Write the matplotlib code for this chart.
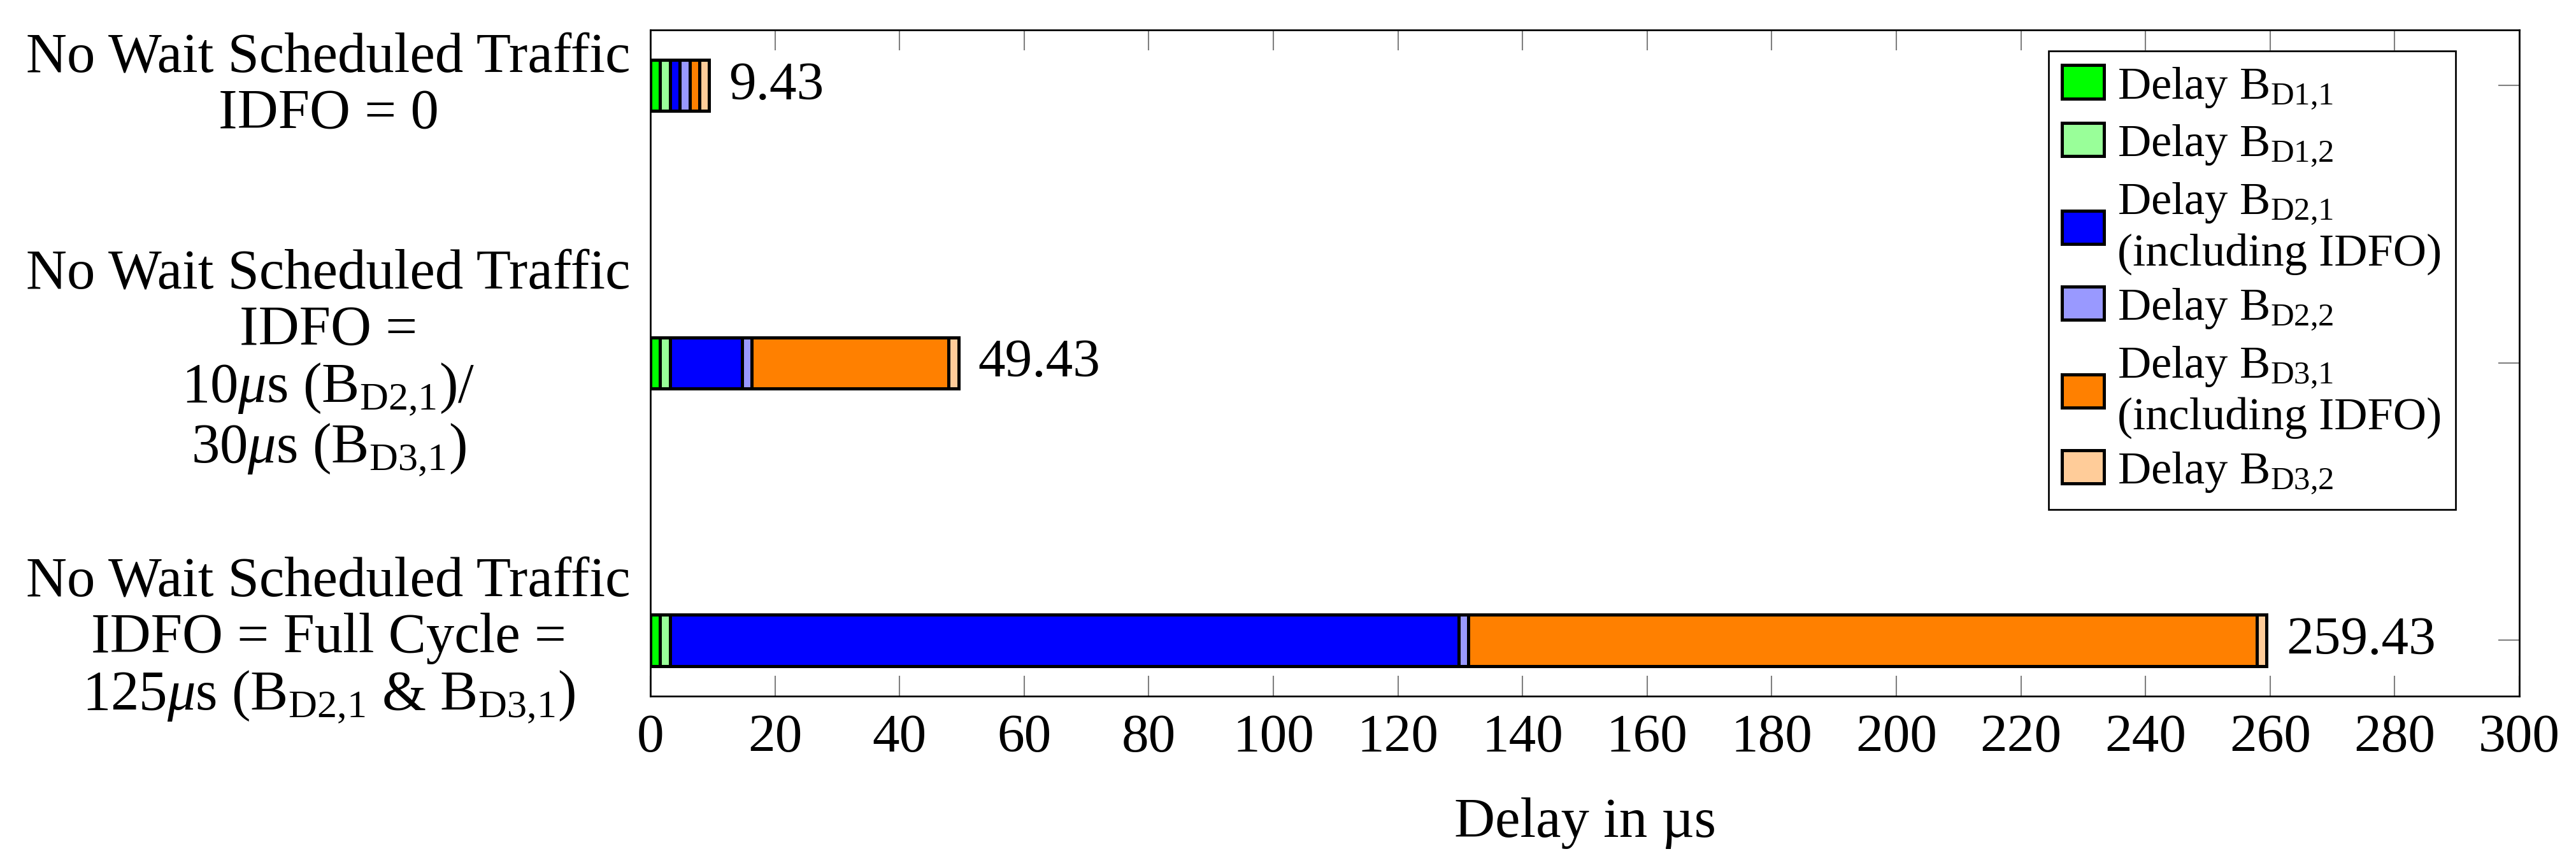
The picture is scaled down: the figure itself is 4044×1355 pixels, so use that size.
import numpy as np
import matplotlib
matplotlib.use("Agg")
import matplotlib.pyplot as plt

# ── fonts ────────────────────────────────────────────────────────────────────
plt.rcParams["font.family"] = ["Liberation Serif", "DejaVu Serif"]
plt.rcParams["mathtext.fontset"] = "custom"
plt.rcParams["mathtext.rm"] = "Liberation Serif"
plt.rcParams["mathtext.it"] = "Liberation Serif:italic"
plt.rcParams["mathtext.bf"] = "Liberation Serif:bold"
FS_NUM = 20.5    # tick labels, bar totals
FS_TXT = 21.3    # category labels, axis label
FS_LEG = 17.4

# ── data (µs) ────────────────────────────────────────────────────────────────
SCENARIOS = [
    "No Wait Scheduled Traffic\nIDFO = 0",
    "No Wait Scheduled Traffic\nIDFO =\n10$\\mu$s (B$_{\\mathrm{D2{,}1}}$)/\n30$\\mu$s (B$_{\\mathrm{D3{,}1}}$)",
    "No Wait Scheduled Traffic\nIDFO = Full Cycle =\n125$\\mu$s (B$_{\\mathrm{D2{,}1}}$ & B$_{\\mathrm{D3{,}1}}$)",
]
delay_d11 = [1.57, 1.57, 1.57]
delay_d12 = [1.57, 1.57, 1.57]
delay_d21 = [1.57, 11.57, 126.57]
delay_d22 = [1.57, 1.57, 1.57]
delay_d31 = [1.57, 31.57, 126.57]
delay_d32 = [1.58, 1.58, 1.58]

SERIES = [
    (delay_d11, "Delay B$_{\\mathrm{D1{,}1}}$", "#00ff00"),
    (delay_d12, "Delay B$_{\\mathrm{D1{,}2}}$", "#99ff99"),
    (delay_d21, "Delay B$_{\\mathrm{D2{,}1}}$\n(including IDFO)", "#0000ff"),
    (delay_d22, "Delay B$_{\\mathrm{D2{,}2}}$", "#9999ff"),
    (delay_d31, "Delay B$_{\\mathrm{D3{,}1}}$\n(including IDFO)", "#ff8000"),
    (delay_d32, "Delay B$_{\\mathrm{D3{,}2}}$", "#ffcc99"),
]

# top scenario drawn at the top
ypos = np.arange(len(SCENARIOS))[::-1]

fig = plt.figure(figsize=(13.48, 4.52), dpi=300)
ax = fig.add_axes([0.2525, 0.1935, 0.7255, 0.7711])

left = np.zeros(len(SCENARIOS))
for vals, label, col in SERIES:
    vals = np.array(vals)
    ax.barh(ypos, vals, left=left, height=0.185, color=col,
            edgecolor="black", linewidth=1.2, label=label, zorder=3)
    left += vals

for y, tot in zip(ypos, left):
    ax.annotate(f"{tot:.2f}", xy=(tot, y), xytext=(7.5, 0),
                textcoords="offset points", va="center", ha="left",
                fontsize=FS_NUM)

ax.set_xlim(0, 300)
ax.set_ylim(-0.2, 2.2)
ax.set_xticks(np.arange(0, 301, 20))
ax.set_yticks(ypos)
ax.set_yticklabels(SCENARIOS, fontsize=FS_TXT, linespacing=1.12)
for t in ax.get_yticklabels():
    t.set_multialignment("center")
    t.set_verticalalignment("center")

ax.tick_params(axis="x", direction="in", top=True, bottom=True,
               length=7.7, width=0.5, color="0.5", pad=6.5, labelsize=FS_NUM)
ax.tick_params(axis="y", direction="in", left=False, right=True,
               length=8, width=0.5, color="0.5", pad=7.5)
for s in ax.spines.values():
    s.set_linewidth(0.65)
    s.set_color("black")

ax.set_xlabel("Delay in µs", fontsize=FS_TXT, labelpad=13)

leg = ax.legend(loc="upper right", bbox_to_anchor=(0.966, 0.968),
                fontsize=FS_LEG, fancybox=False, framealpha=1,
                edgecolor="black", handlelength=0.9, handleheight=0.73,
                handletextpad=0.3, labelspacing=0.26, borderpad=0.3,
                borderaxespad=0)
leg.get_frame().set_linewidth(0.65)

fig.savefig("out.png", dpi=300)
